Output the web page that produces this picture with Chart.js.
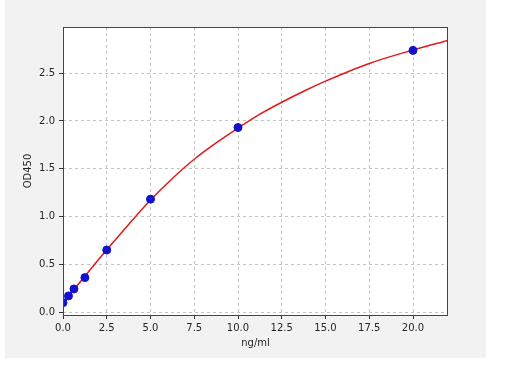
<!DOCTYPE html>
<html>
<head>
<meta charset="utf-8">
<script src="https://cdn.jsdelivr.net/npm/chart.js@4"></script>
<style>
  html, body { margin: 0; padding: 0; background: #ffffff; }
  #wrap { position: absolute; left: 0; top: 0; width: 507px; height: 368px; }
</style>
</head>
<body>
<div id="wrap"><canvas id="curve" width="507" height="368"></canvas></div>
<script>
// standard points (ng/ml vs OD450)
const concentrations = [0, 0.3125, 0.625, 1.25, 2.5, 5, 10, 20];
const odValues = [0.104, 0.174, 0.247, 0.365, 0.653, 1.184, 1.931, 2.736];

// fitted curve
const curveX = [0, 1.25, 2.5, 3.75, 5, 6.25, 7.5, 8.75, 10, 11.25, 12.5, 13.75, 15, 17.5, 20, 22];
const curveY = [0.10, 0.38, 0.655, 0.92, 1.175, 1.40, 1.60, 1.77, 1.925, 2.07, 2.195, 2.31, 2.415, 2.60, 2.74, 2.84];

const xTickStep = 2.5;
const yTickStep = 0.5;

const fontSpec = { family: "'DejaVu Sans', sans-serif", size: 10 };

// grey figure background + dark frame like matplotlib
const figureBackground = {
  id: "figureBackground",
  beforeDraw(chart) {
    const ctx = chart.ctx;
    ctx.save();
    ctx.fillStyle = "#f2f2f2";
    ctx.fillRect(5, 0, 481, 358);
    const a = chart.chartArea;
    ctx.fillStyle = "#ffffff";
    ctx.fillRect(a.left, a.top, a.right - a.left, a.bottom - a.top);
    ctx.restore();
  },
  afterDraw(chart) {
    const ctx = chart.ctx;
    const a = chart.chartArea;
    ctx.save();
    ctx.strokeStyle = "#444444";
    ctx.lineWidth = 1;
    ctx.strokeRect(Math.round(a.left) + 0.5, Math.round(a.top) + 0.5,
      Math.round(a.right - a.left) - 1, Math.round(a.bottom - a.top));
    ctx.restore();
  }
};

const pointData = concentrations.map((x, i) => ({ x: x, y: odValues[i] }));
const lineData = curveX.map((x, i) => ({ x: x, y: curveY[i] }));

new Chart(document.getElementById("curve").getContext("2d"), {
  type: "scatter",
  data: {
    datasets: [
      {
        data: pointData,
        backgroundColor: "#1212cc",
        borderColor: "#1212cc",
        pointRadius: 4,
        pointHoverRadius: 4,
        order: 0
      },
      {
        type: "line",
        data: lineData,
        borderColor: "#e01a1a",
        borderWidth: 1.5,
        pointRadius: 0,
        fill: false,
        cubicInterpolationMode: "monotone",
        order: 1
      }
    ]
  },
  options: {
    responsive: false,
    animation: false,
    layout: { padding: { left: 0, top: 27, right: 59, bottom: 0 } },
    plugins: {
      legend: { display: false },
      tooltip: { enabled: false }
    },
    scales: {
      x: {
        type: "linear",
        min: 0,
        max: 22,
        afterFit(scale) { scale.height = 53; },
        border: { display: false, dash: [3, 3] },
        grid: {
          color: "#c4c4c4",
          tickColor: "#333333",
          tickLength: 4,
          tickBorderDash: []
        },
        ticks: {
          stepSize: xTickStep,
          includeBounds: false,
          padding: 3,
          color: "#262626",
          font: fontSpec,
          maxRotation: 0,
          callback: (v) => v.toFixed(1)
        },
        title: {
          display: true,
          text: "ng/ml",
          color: "#262626",
          font: fontSpec,
          padding: { top: 0, bottom: 19 }
        }
      },
      y: {
        type: "linear",
        min: -0.025,
        max: 2.98,
        afterFit(scale) { scale.width = 63; },
        border: { display: false, dash: [3, 3] },
        grid: {
          color: "#c4c4c4",
          tickColor: "#333333",
          tickLength: 4,
          tickBorderDash: []
        },
        ticks: {
          stepSize: yTickStep,
          includeBounds: false,
          padding: 4,
          color: "#262626",
          font: fontSpec,
          callback: (v) => v.toFixed(1)
        },
        title: {
          display: true,
          text: "OD450",
          color: "#262626",
          font: fontSpec,
          padding: { top: 22, bottom: 0 }
        }
      }
    }
  },
  plugins: [figureBackground]
});
</script>
</body>
</html>
